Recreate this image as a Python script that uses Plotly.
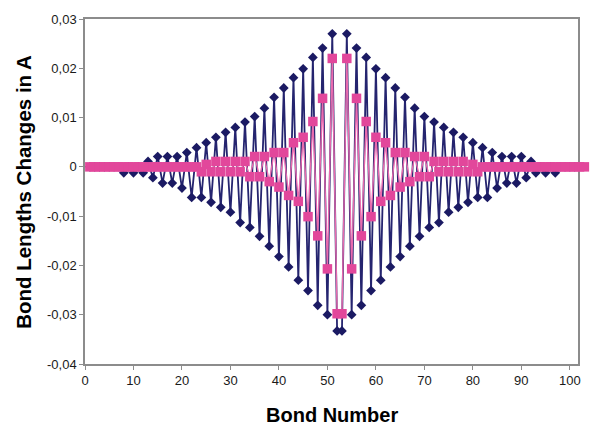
import plotly.graph_objects as go

bond_number = list(range(1, 104))

# Series 1 (navy diamonds)
navy_values = [
    0, 0, 0, 0, 0, 0, 0, -0.0012, 0, -0.0012,
    0, -0.0012, 0.0011, -0.0022, 0.0021, -0.0033, 0.0021, -0.0033, 0.0021, -0.0043,
    0.0029, -0.0062, 0.0039, -0.0062, 0.0049, -0.0072, 0.0060, -0.0082, 0.0070, -0.0092,
    0.0080, -0.0113, 0.0091, -0.0123, 0.0102, -0.0141, 0.0119, -0.0161, 0.0141, -0.0182,
    0.0160, -0.0203, 0.0181, -0.0230, 0.0199, -0.0251, 0.0222, -0.0281, 0.0241, -0.0300,
    0.0270, -0.0333, -0.0333, 0.0270, -0.0300, 0.0241, -0.0281, 0.0222, -0.0251, 0.0199,
    -0.0230, 0.0181, -0.0203, 0.0160, -0.0182, 0.0141, -0.0161, 0.0119, -0.0141, 0.0102,
    -0.0123, 0.0091, -0.0113, 0.0080, -0.0092, 0.0070, -0.0082, 0.0060, -0.0072, 0.0049,
    -0.0062, 0.0039, -0.0062, 0.0029, -0.0043, 0.0021, -0.0033, 0.0021, -0.0033, 0.0021,
    -0.0022, 0.0011, -0.0012, 0, -0.0012, 0, -0.0012, 0, 0, 0,
    0, 0, 0,
]

# Series 2 (pink squares)
pink_values = [
    0, 0, 0, 0, 0, 0, 0, 0, 0, 0,
    0, 0, 0, 0, 0, 0, 0, 0, 0, 0,
    0, 0, 0, -0.0010, 0.0005, -0.0010, 0.0011, -0.0010, 0.0011, -0.0010,
    0.0011, -0.0010, 0.0011, -0.0020, 0.0021, -0.0020, 0.0021, -0.0030, 0.0029, -0.0041,
    0.0029, -0.0058, 0.0049, -0.0070, 0.0060, -0.0101, 0.0092, -0.0140, 0.0139, -0.0207,
    0.0220, -0.0298, -0.0298, 0.0220, -0.0207, 0.0139, -0.0140, 0.0092, -0.0101, 0.0060,
    -0.0070, 0.0049, -0.0058, 0.0029, -0.0041, 0.0029, -0.0030, 0.0021, -0.0020, 0.0021,
    -0.0020, 0.0011, -0.0010, 0.0011, -0.0010, 0.0011, -0.0010, 0.0011, -0.0010, 0.0005,
    -0.0010, 0, 0, 0, 0, 0, 0, 0, 0, 0,
    0, 0, 0, 0, 0, 0, 0, 0, 0, 0,
    0, 0, 0,
]

y_tick_vals = [0.03, 0.02, 0.01, 0, -0.01, -0.02, -0.03, -0.04]
y_tick_text = ["0,03", "0,02", "0,01", "0", "-0,01", "-0,02", "-0,03", "-0,04"]
x_tick_vals = [0, 10, 20, 30, 40, 50, 60, 70, 80, 90, 100]

NAVY = "#1b1a63"
PINK = "#e2479b"
FONT = "Arial, 'Liberation Sans', sans-serif"

# geometry: plot frame 496 px wide inside a 508 px wide area (right margin 0)
X_MAX = 101.7
FRAME_FRAC = 496 / 508
X2_MAX = X_MAX / FRAME_FRAC

fig = go.Figure()
fig.add_trace(go.Scatter(
    x=bond_number, y=navy_values, mode="lines+markers",
    line=dict(color="#25246f", width=1.8),
    marker=dict(symbol="diamond", size=7.5, color=NAVY),
    cliponaxis=False, showlegend=False, xaxis="x", yaxis="y",
))
fig.add_trace(go.Scatter(
    x=bond_number, y=pink_values, mode="lines+markers",
    line=dict(color="#e86aae", width=1.4),
    marker=dict(symbol="square", size=9.5, color=PINK),
    cliponaxis=False, showlegend=False, xaxis="x2", yaxis="y",
))

fig.update_layout(
    width=593, height=426,
    margin=dict(l=85, r=0, t=19, b=62),
    paper_bgcolor="white", plot_bgcolor="rgba(0,0,0,0)",
    font=dict(family=FONT, size=13, color="#000000"),
    xaxis=dict(
        domain=[0, FRAME_FRAC],
        range=[0, X_MAX], tickvals=x_tick_vals, ticks="outside", ticklen=4,
        tickcolor="#8c8c8c", showline=True, linecolor="#8c8c8c", linewidth=1.5,
        mirror=True, showgrid=False, zeroline=False,
        tickfont=dict(size=13, color="#1a1a1a"),
    ),
    xaxis2=dict(
        domain=[0, 1], range=[0, X2_MAX], anchor="y", visible=False,
        showgrid=False, zeroline=False,
    ),
    yaxis=dict(
        range=[-0.04, 0.03], tickvals=y_tick_vals, ticktext=y_tick_text,
        ticks="outside", ticklen=4, tickcolor="#8c8c8c", showline=True,
        linecolor="#8c8c8c", linewidth=1.5, mirror=True, showgrid=False,
        zeroline=False, tickfont=dict(size=13, color="#1a1a1a"),
    ),
    annotations=[
        dict(text="<b>Bond Number</b>", x=0.5, xref="x domain", yref="paper",
             y=-0.147, yanchor="middle", xanchor="center", showarrow=False,
             font=dict(size=20, color="#000000", family=FONT)),
        dict(text="<b>Bond Lengths Changes in A</b>", xref="paper", yref="paper",
             x=-62 / 508, xanchor="center", y=0.5, yanchor="middle", textangle=-90,
             showarrow=False, font=dict(size=20.5, color="#000000", family=FONT)),
    ],
)

fig.write_html("out.html")
